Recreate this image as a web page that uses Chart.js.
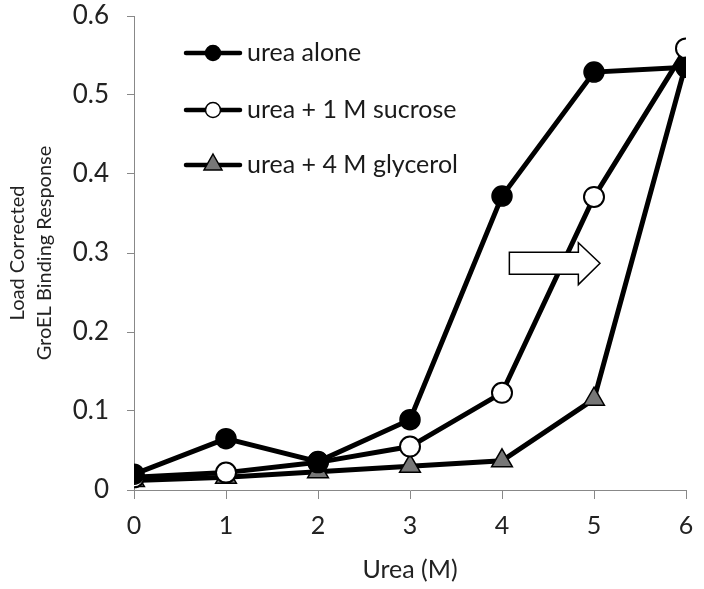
<!DOCTYPE html>
<html>
<head>
<meta charset="utf-8">
<script src="https://cdn.jsdelivr.net/npm/chart.js@4/dist/chart.umd.min.js"></script>
<style>
  html, body { margin: 0; padding: 0; background: #fff; }
  #wrap { width: 704px; height: 589px; }
</style>
</head>
<body>
<div id="wrap"><canvas id="myChart" width="704" height="589"></canvas></div>
<script>
const urea = [0, 1, 2, 3, 4, 5, 6];
const ureaAlone = [0.020, 0.065, 0.036, 0.089, 0.372, 0.529, 0.535];
const ureaSucrose = [0.016, 0.022, 0.035, 0.055, 0.123, 0.371, 0.559];
const ureaGlycerol = [0.012, 0.016, 0.023, 0.030, 0.037, 0.115, 0.540];
const seriesNames = ['urea alone', 'urea + 1 M sucrose', 'urea + 4 M glycerol'];
const yTicks = [0, 0.1, 0.2, 0.3, 0.4, 0.5, 0.6];

const FONT = 'Lato, "Open Sans", sans-serif';

function pts(vals) {
  return urea.map((x, i) => ({ x: x, y: vals[i] }));
}

// legend drawn inside the plot, like the original
const innerLegend = {
  id: 'innerLegend',
  afterDraw(chart) {
    const c = chart.ctx;
    const rows = [53, 110, 165];
    chart.data.datasets.forEach((ds, i) => {
      const y = rows[i];
      c.save();
      c.strokeStyle = '#000';
      c.lineWidth = 4.5;
      c.lineCap = 'round';
      c.beginPath();
      c.moveTo(186, y);
      c.lineTo(240, y);
      c.stroke();
      c.fillStyle = ds.pointBackgroundColor;
      c.strokeStyle = '#000';
      c.lineWidth = 1.5;
      if (ds.pointStyle === 'triangle') {
        c.beginPath();
        c.moveTo(213, y - 11);
        c.lineTo(222, y + 5);
        c.lineTo(204, y + 5);
        c.closePath();
        c.fill();
        c.stroke();
      } else {
        c.beginPath();
        c.arc(213, y, 7.5, 0, Math.PI * 2);
        c.fill();
        c.stroke();
      }
      c.fillStyle = '#1a1a1a';
      c.font = '25px ' + FONT;
      c.textBaseline = 'middle';
      c.textAlign = 'left';
      c.fillText(seriesNames[i], 247, y);
      c.restore();
    });
  }
};

// block arrow annotation, placed with the scales
const blockArrow = {
  id: 'blockArrow',
  afterDatasetsDraw(chart) {
    const xs = chart.scales.x, ys = chart.scales.y, c = chart.ctx;
    const x0 = xs.getPixelForValue(4.08), xn = xs.getPixelForValue(4.83), xt = xs.getPixelForValue(5.065);
    const yb1 = ys.getPixelForValue(0.301), yb2 = ys.getPixelForValue(0.273);
    const yh1 = ys.getPixelForValue(0.313), yh2 = ys.getPixelForValue(0.260);
    const yt = ys.getPixelForValue(0.287);
    c.save();
    c.beginPath();
    c.moveTo(x0, yb1);
    c.lineTo(xn, yb1);
    c.lineTo(xn, yh1);
    c.lineTo(xt, yt);
    c.lineTo(xn, yh2);
    c.lineTo(xn, yb2);
    c.lineTo(x0, yb2);
    c.closePath();
    c.fillStyle = '#fff';
    c.fill();
    c.strokeStyle = '#000';
    c.lineWidth = 1.5;
    c.stroke();
    c.restore();
  }
};

const ctx = document.getElementById('myChart');
new Chart(ctx, {
  type: 'line',
  data: {
    datasets: [{
      label: seriesNames[0],
      data: pts(ureaAlone),
      borderColor: '#000',
      borderWidth: 5,
      pointStyle: 'circle',
      pointRadius: 10,
      pointBackgroundColor: '#000',
      pointBorderColor: '#000',
      pointBorderWidth: 1.5
    }, {
      label: seriesNames[1],
      data: pts(ureaSucrose),
      borderColor: '#000',
      borderWidth: 5,
      pointStyle: 'circle',
      pointRadius: 10,
      pointBackgroundColor: '#fff',
      pointBorderColor: '#000',
      pointBorderWidth: 2
    }, {
      label: seriesNames[2],
      data: pts(ureaGlycerol),
      borderColor: '#000',
      borderWidth: 5,
      pointStyle: 'triangle',
      pointRadius: 12,
      pointBackgroundColor: '#777',
      pointBorderColor: '#000',
      pointBorderWidth: 1.5
    }]
  },
  options: {
    responsive: false,
    animation: false,
    layout: { padding: { left: 0, right: 18, top: 16, bottom: 0 } },
    plugins: {
      legend: { display: false },
      tooltip: { enabled: false }
    },
    scales: {
      x: {
        type: 'linear',
        min: 0,
        max: 6,
        ticks: { stepSize: 1, color: '#222', font: { family: FONT, size: 25 }, padding: 12 },
        grid: { display: true, drawOnChartArea: false, drawTicks: true, tickLength: 9, color: '#888' },
        border: { color: '#888', width: 1 },
        title: { display: true, text: 'Urea (M)', color: '#222', font: { family: FONT, size: 25 }, padding: { top: 6 } },
        afterFit(scale) { scale.height = 99; scale.paddingLeft = 0; scale.paddingRight = 0; }
      },
      y: {
        min: 0,
        max: 0.6,
        afterBuildTicks(scale) { scale.ticks = yTicks.map(v => ({ value: v })); },
        ticks: { color: '#222', font: { family: FONT, size: 26 }, padding: 18 },
        grid: { display: true, drawOnChartArea: false, drawTicks: true, tickLength: 7, color: '#888' },
        border: { color: '#888', width: 1 },
        title: { display: true, text: ['Load Corrected', 'GroEL Binding Response'], color: '#222', font: { family: FONT, size: 20, lineHeight: 1.35 }, padding: { bottom: 4 } },
        afterFit(scale) { scale.width = 134; scale.paddingTop = 0; scale.paddingBottom = 0; }
      }
    }
  },
  plugins: [blockArrow, innerLegend]
});
</script>
</body>
</html>
